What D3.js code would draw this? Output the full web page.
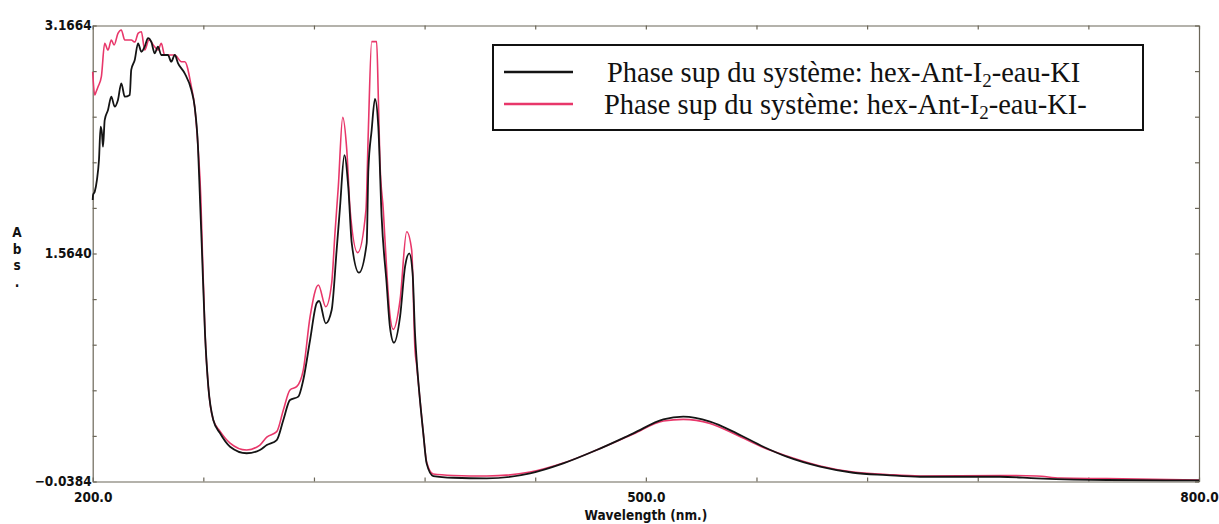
<!DOCTYPE html>
<html>
<head>
<meta charset="utf-8">
<script src="https://cdn.jsdelivr.net/npm/d3@7"></script>
<style>
  body { margin: 0; background: #fff; }
  svg { display: block; }
  .tick-label, .axis text {
    font-family: "Liberation Sans Narrow", "Arial Narrow", "DejaVu Sans Condensed", "Liberation Sans", sans-serif;
    font-weight: bold;
    font-size: 13.5px;
    fill: #111;
  }
  .legend-text {
    font-family: "Liberation Serif", "DejaVu Serif", serif;
    font-size: 28.5px;
    fill: #111;
  }
</style>
</head>
<body>
<script>
/*
 * UV-Vis absorption spectra of two upper phases,
 * hex-Ant-I2-eau-KI systems, 200 - 800 nm.
 */

const CANVAS_WIDTH = 1219;
const CANVAS_HEIGHT = 524;
const PLOT_LEFT = 92.7;
const PLOT_RIGHT = 1199;
const PLOT_TOP = 25.5;
const PLOT_BOT = 481.5;

const COLOR_BLACK = '#141414';
const COLOR_RED = '#e8376a';
const COLOR_AXIS = '#6b6658';

// axis limits and tick labels, as printed by the instrument
const X_MIN = 200.0;
const X_MAX = 800.0;
const X_LABELS = [200.0, 500.0, 800.0];
const Y_MIN = -0.0384;
const Y_MAX = 3.1664;
const Y_LABELS = [-0.0384, 1.5640, 3.1664];

const LEGEND_LABELS = [
  'Phase sup du système: hex-Ant-I|2|-eau-KI',
  'Phase sup du système: hex-Ant-I|2|-eau-KI-'
];

// black spectrum
const WL_BLACK = [200.0, 200.2, 201.1, 202.3, 203.4, 204.3, 205.0, 205.6, 206.5, 208.3,
  210.1, 211.9, 213.7, 215.5, 217.4, 220.1, 220.9, 222.8, 224.6, 226.4,
  228.2, 230.0, 231.8, 233.6, 235.4, 237.2, 240.8, 242.6, 244.5, 246.3,
  249.9, 253.5, 255.3, 257.1, 258.2, 259.1, 260.9, 262.7, 265.4, 269.0,
  274.5, 283.5, 290.7, 294.4, 299.8, 303.4, 307.0, 311.5, 314.2, 317.9,
  321.5, 322.8, 326.4, 329.6, 332.3, 334.1, 336.5, 338.6, 340.5, 344.4,
  348.6, 349.5, 351.3, 353.1, 354.9, 356.7, 359.4, 361.2, 363.4, 366.7,
  369.4, 371.7, 373.5, 374.8, 375.7, 377.5, 379.3, 381.1, 384.7, 395.6,
  413.7, 437.2, 455.2, 473.3, 493.2, 509.5, 520.3, 534.8, 549.3, 563.7,
  576.4, 594.5, 612.5, 630.6, 648.7, 692.1, 712.0, 750.0, 800.0];
const ABS_BLACK = [1.940, 1.975, 1.998, 2.081, 2.221, 2.455, 2.411, 2.315, 2.502, 2.573,
  2.666, 2.596, 2.643, 2.760, 2.666, 2.678, 2.854, 2.924, 3.041, 2.982,
  3.017, 3.078, 3.052, 2.971, 3.017, 2.959, 2.959, 2.912, 2.959, 2.901,
  2.830, 2.713, 2.596, 2.315, 1.940, 1.638, 1.005, 0.628, 0.394, 0.302,
  0.206, 0.160, 0.183, 0.218, 0.253, 0.394, 0.534, 0.558, 0.675, 0.956,
  1.216, 1.230, 1.073, 1.167, 1.588, 1.884, 2.256, 2.033, 1.636, 1.429,
  1.636, 2.151, 2.432, 2.650, 2.455, 1.823, 1.355, 1.049, 0.937, 1.120,
  1.471, 1.565, 1.425, 1.003, 0.815, 0.534, 0.300, 0.089, 0.000, -0.012,
  -0.016, 0.019, 0.089, 0.183, 0.300, 0.398, 0.417, 0.382, 0.300, 0.206,
  0.136, 0.066, 0.023, 0.007, -0.005, -0.005, -0.016, -0.028, -0.031];

// red spectrum
const WL_RED = [200.0, 201.1, 201.8, 202.9, 204.7, 206.5, 208.3, 210.1, 211.6, 213.7,
  215.5, 217.4, 220.9, 222.9, 224.6, 226.4, 228.2, 230.5, 233.6, 235.4,
  237.2, 239.0, 244.5, 248.1, 249.9, 253.5, 255.3, 257.1, 258.6, 259.3,
  260.9, 262.7, 265.4, 269.0, 274.5, 283.5, 290.7, 294.4, 299.8, 303.4,
  307.0, 310.6, 314.2, 317.9, 322.4, 326.4, 329.6, 331.4, 333.2, 335.6,
  337.8, 339.6, 343.7, 348.2, 349.5, 351.3, 354.0, 354.9, 355.8, 357.6,
  359.6, 361.2, 363.0, 366.7, 370.3, 373.0, 374.8, 375.7, 377.5, 379.3,
  381.1, 384.7, 395.6, 413.7, 437.2, 455.2, 473.3, 493.2, 509.5, 520.3,
  534.8, 549.3, 563.7, 576.4, 594.5, 612.5, 630.6, 648.7, 692.1, 712.0,
  724.6, 750.0, 800.0];
const ABS_RED = [2.840, 2.678, 2.699, 2.736, 2.807, 3.041, 2.994, 3.064, 3.029, 3.111,
  3.135, 3.064, 3.064, 3.050, 3.111, 3.123, 2.994, 3.064, 3.017, 2.994,
  3.041, 2.959, 2.959, 2.912, 2.912, 2.736, 2.596, 2.315, 1.963, 1.659,
  1.005, 0.628, 0.394, 0.316, 0.232, 0.183, 0.218, 0.274, 0.312, 0.464,
  0.605, 0.628, 0.745, 1.120, 1.343, 1.190, 1.355, 1.708, 2.033, 2.521,
  2.291, 1.870, 1.570, 1.870, 2.432, 3.053, 3.053, 2.666, 2.200, 1.870,
  1.413, 1.132, 1.031, 1.237, 1.717, 1.588, 0.886, 0.780, 0.534, 0.300,
  0.099, 0.014, 0.004, 0.000, 0.028, 0.091, 0.183, 0.295, 0.387, 0.398,
  0.369, 0.288, 0.200, 0.141, 0.071, 0.028, 0.011, 0.000, 0.004, 0.000,
  -0.014, -0.018, -0.028];

/*
 * Frame, ticks and labels.
 */

const addAxes = (svg, xScale, yScale) => {
  const xTicks = d3.range(X_MIN, X_MAX + 1, 60);
  const yTicks = d3.range(0, 11).map(i => Y_MIN + i * (Y_MAX - Y_MIN) / 10);

  const isLabel = (v, list) => list.some(l => Math.abs(l - v) < 1e-6);

  // bottom axis, ticks pointing inward
  svg.append('g')
      .attr('class', 'axis')
      .attr('transform', `translate(0, ${PLOT_BOT})`)
      .call(d3.axisBottom(xScale)
        .tickValues(xTicks)
        .tickSizeInner(-4)
        .tickSizeOuter(0)
        .tickPadding(11)
        .tickFormat(d => isLabel(d, X_LABELS) ? d3.format('.1f')(d) : ''));

  // top axis
  svg.append('g')
      .attr('class', 'axis')
      .attr('transform', `translate(0, ${PLOT_TOP})`)
      .call(d3.axisTop(xScale)
        .tickValues(xTicks)
        .tickSizeInner(-4)
        .tickSizeOuter(0)
        .tickFormat(''));

  // left axis
  svg.append('g')
      .attr('class', 'axis')
      .attr('transform', `translate(${PLOT_LEFT}, 0)`)
      .call(d3.axisLeft(yScale)
        .tickValues(yTicks)
        .tickSizeInner(-4)
        .tickSizeOuter(0)
        .tickPadding(1)
        .tickFormat(d => isLabel(d, Y_LABELS) ? d3.format('.4f')(d) : ''));

  // right axis
  svg.append('g')
      .attr('class', 'axis')
      .attr('transform', `translate(${PLOT_RIGHT}, 0)`)
      .call(d3.axisRight(yScale)
        .tickValues(yTicks)
        .tickSizeInner(-4)
        .tickSizeOuter(0)
        .tickFormat(''));

  svg.selectAll('.axis path, .axis line')
      .attr('stroke', COLOR_AXIS)
      .attr('stroke-width', 1.2);

  // x axis title
  svg.append('text')
      .attr('class', 'tick-label')
      .attr('x', (PLOT_LEFT + PLOT_RIGHT) / 2)
      .attr('y', 520)
      .attr('text-anchor', 'middle')
      .text('Wavelength (nm.)');

  // y axis title, one letter per line
  svg.append('text')
      .attr('class', 'tick-label')
      .attr('text-anchor', 'middle')
    .selectAll('tspan')
    .data(['A', 'b', 's', '.'])
    .enter()
    .append('tspan')
      .attr('x', 17)
      .attr('y', (d, i) => 237 + i * 16.5)
      .text(d => d);
};

/*
 * Legend box with two line samples.
 */

const addLegend = svg => {
  const g = svg.append('g').attr('id', 'legend');

  g.append('rect')
      .attr('x', 493)
      .attr('y', 45)
      .attr('width', 650)
      .attr('height', 85)
      .attr('fill', '#fff')
      .attr('stroke', '#111')
      .attr('stroke-width', 2);

  [COLOR_BLACK, COLOR_RED].forEach((color, i) => {
    const cy = 72 + i * 32;
    g.append('line')
        .attr('x1', 504)
        .attr('x2', 573)
        .attr('y1', cy)
        .attr('y2', cy)
        .attr('stroke', color)
        .attr('stroke-width', 2.5);

    // split around the subscript "2"
    const parts = LEGEND_LABELS[i].split('|');
    const text = g.append('text')
        .attr('class', 'legend-text')
        .attr('x', i === 0 ? 607 : 604)
        .attr('y', cy + 10);
    text.append('tspan').text(parts[0]);
    text.append('tspan')
        .attr('dy', 5)
        .style('font-size', '19px')
        .text(parts[1]);
    text.append('tspan')
        .attr('dy', -5)
        .text(parts[2]);
  });
};

/*
 * Draw both spectra.
 */

const plotSpectra = () => {
  const svg = d3.select('body')
    .append('svg')
      .attr('width', CANVAS_WIDTH)
      .attr('height', CANVAS_HEIGHT);

  const xScale = d3.scaleLinear()
      .domain([X_MIN, X_MAX])
      .range([PLOT_LEFT, PLOT_RIGHT]);

  const yScale = d3.scaleLinear()
      .domain([Y_MIN, Y_MAX])
      .range([PLOT_BOT, PLOT_TOP]);

  addAxes(svg, xScale, yScale);

  const line = d3.line()
      .curve(d3.curveMonotoneX)
      .x(d => xScale(d[0]))
      .y(d => yScale(d[1]));

  const series = [
    { wl: WL_RED, abs: ABS_RED, color: COLOR_RED, width: 1.6 },
    { wl: WL_BLACK, abs: ABS_BLACK, color: COLOR_BLACK, width: 1.8 }
  ];

  series.forEach(s => {
    svg.append('path')
        .datum(s.wl.map((w, i) => [w, s.abs[i]]))
        .attr('fill', 'none')
        .attr('stroke', s.color)
        .attr('stroke-width', s.width)
        .attr('stroke-linejoin', 'round')
        .attr('d', line);
  });

  addLegend(svg);
};

plotSpectra();
</script>
</body>
</html>
